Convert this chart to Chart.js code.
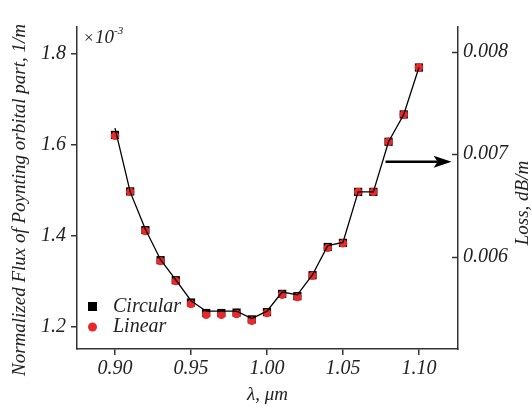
<!DOCTYPE html>
<html>
<head>
<meta charset="utf-8">
<script src="https://cdn.jsdelivr.net/npm/chart.js@4.4.1/dist/chart.umd.min.js"></script>
<style>
  html, body { margin: 0; padding: 0; background: #fff; }
  #wrap { width: 532px; height: 407px; }
</style>
</head>
<body>
<div id="wrap"><canvas id="fluxChart" width="532" height="407"></canvas></div>
<script>
// wavelength, um
const wavelengths = [0.90, 0.91, 0.92, 0.93, 0.94, 0.95, 0.96, 0.97, 0.98, 0.99, 1.00,
                     1.01, 1.02, 1.03, 1.04, 1.05, 1.06, 1.07, 1.08, 1.09, 1.10];
// normalized flux, x10^-3 1/m
const circularVals = [1.622, 1.498, 1.413, 1.347, 1.303, 1.254, 1.231, 1.231, 1.232, 1.217, 1.233,
                      1.273, 1.268, 1.314, 1.376, 1.385, 1.497, 1.497, 1.607, 1.667, 1.770];
const linearVals   = [1.620, 1.497, 1.411, 1.345, 1.301, 1.251, 1.227, 1.227, 1.229, 1.214, 1.231,
                      1.271, 1.266, 1.313, 1.374, 1.384, 1.497, 1.497, 1.607, 1.667, 1.770];
// connecting curve drawn over the markers
const curveVals    = [1.637, 1.497, 1.415, 1.348, 1.304, 1.258, 1.235, 1.235, 1.235, 1.219, 1.235,
                      1.277, 1.271, 1.315, 1.379, 1.386, 1.497, 1.497, 1.607, 1.667, 1.770];

const xTicks = [0.90, 0.95, 1.00, 1.05, 1.10];
const yTicks = [1.2, 1.4, 1.6, 1.8];
const lossTicks = [0.006, 0.007, 0.008];

const FONT = 'Liberation Serif';
const INK = '#222';
const AXIS = '#333';
const RED = '#e8282b';

function toPoints(xs, ys) {
    return xs.map((x, i) => ({x: x, y: ys[i]}));
}

function fixTicks(values) {
    return scale => { scale.ticks = values.map(v => ({value: v})); };
}

// arrow pointing at the loss axis
const arrow = {x1: 1.078, x2: 1.1215, y: 1.563};

const extras = {
    id: 'extras',
    afterDraw(chart) {
        const ctx = chart.ctx;
        const area = chart.chartArea;
        const sx = chart.scales.x, sy = chart.scales.y, s2 = chart.scales.y2;
        ctx.save();

        // inward ticks on the right axis
        ctx.strokeStyle = AXIS;
        ctx.lineWidth = 1.5;
        lossTicks.forEach(v => {
            const py = Math.round(s2.getPixelForValue(v)) + 0.5;
            ctx.beginPath();
            ctx.moveTo(s2.left - 6, py);
            ctx.lineTo(s2.left, py);
            ctx.stroke();
        });

        // arrow
        const ax1 = sx.getPixelForValue(arrow.x1);
        const ax2 = sx.getPixelForValue(arrow.x2);
        const ay = sy.getPixelForValue(arrow.y);
        ctx.strokeStyle = '#000';
        ctx.fillStyle = '#000';
        ctx.lineWidth = 2.5;
        ctx.beginPath();
        ctx.moveTo(ax1, ay);
        ctx.lineTo(ax2 - 14, ay);
        ctx.stroke();
        ctx.beginPath();
        ctx.moveTo(ax2, ay);
        ctx.lineTo(ax2 - 18, ay - 6);
        ctx.lineTo(ax2 - 14, ay);
        ctx.lineTo(ax2 - 18, ay + 6);
        ctx.closePath();
        ctx.fill();

        // x10^-3 multiplier
        ctx.fillStyle = INK;
        ctx.textBaseline = 'alphabetic';
        ctx.textAlign = 'left';
        ctx.font = '17px "' + FONT + '"';
        ctx.fillText('×', area.left + 7, area.top + 16);
        ctx.font = 'italic 19px "' + FONT + '"';
        ctx.fillText('10', area.left + 18, area.top + 16);
        ctx.font = 'italic 11px "' + FONT + '"';
        ctx.fillText('-3', area.left + 37, area.top + 7);

        // legend
        const c = chart.data.datasets[0], l = chart.data.datasets[1];
        ctx.font = 'italic 20px "' + FONT + '"';
        ctx.textBaseline = 'middle';
        ctx.fillStyle = c.pointBackgroundColor;
        ctx.fillRect(area.left + 11, area.bottom - 47, 9, 9);
        ctx.fillStyle = INK;
        ctx.fillText('Circular', area.left + 36, area.bottom - 42);
        ctx.fillStyle = l.pointBackgroundColor;
        ctx.beginPath();
        ctx.arc(area.left + 15.5, area.bottom - 22, 4.5, 0, Math.PI * 2);
        ctx.fill();
        ctx.fillStyle = INK;
        ctx.fillText('Linear', area.left + 36, area.bottom - 22);

        // axis titles
        ctx.textAlign = 'center';
        ctx.font = 'italic 19px "' + FONT + '"';
        ctx.fillText('λ, μm', (area.left + area.right) / 2, 395);

        ctx.translate(20, 200);
        ctx.rotate(-Math.PI / 2);
        ctx.fillText('Normalized Flux of Poynting orbital part, 1/m', 0, 0);
        ctx.setTransform(1, 0, 0, 1, 0, 0);

        ctx.translate(523, 203);
        ctx.rotate(-Math.PI / 2);
        ctx.fillText('Loss, dB/m', 0, 0);
        ctx.restore();
    }
};

const tickFont = {family: FONT, size: 20, style: 'italic'};

new Chart(document.getElementById('fluxChart'), {
    type: 'scatter',
    data: {
        datasets: [
            {
                label: 'Circular',
                data: toPoints(wavelengths, circularVals),
                pointStyle: 'rect',
                pointRadius: 5.8,
                pointBackgroundColor: '#000',
                pointBorderColor: '#000',
                pointBorderWidth: 0,
                showLine: false,
                order: 2
            },
            {
                label: 'Linear',
                data: toPoints(wavelengths, linearVals),
                pointStyle: 'circle',
                pointRadius: 4.2,
                pointBackgroundColor: RED,
                pointBorderColor: RED,
                pointBorderWidth: 0,
                showLine: false,
                order: 1
            },
            {
                label: 'curve',
                data: toPoints(wavelengths, curveVals),
                showLine: true,
                borderColor: '#000',
                borderWidth: 1.3,
                pointRadius: 0,
                tension: 0,
                order: 0
            }
        ]
    },
    options: {
        responsive: false,
        animation: false,
        layout: {padding: {top: 27, left: 0, right: 0, bottom: 0}},
        plugins: {legend: {display: false}, tooltip: {enabled: false}},
        scales: {
            x: {
                type: 'linear',
                position: 'bottom',
                min: 0.875,
                max: 1.1257,
                afterBuildTicks: fixTicks(xTicks),
                afterFit: scale => { scale.height = 58; },
                grid: {drawOnChartArea: false, drawTicks: true, tickLength: 6, color: AXIS, lineWidth: 1.5},
                border: {display: true, color: AXIS, width: 1.5},
                ticks: {font: tickFont, color: INK, padding: 2, callback: v => v.toFixed(2)}
            },
            y: {
                type: 'linear',
                position: 'left',
                min: 1.152,
                max: 1.859,
                afterBuildTicks: fixTicks(yTicks),
                afterFit: scale => { scale.width = 77; },
                grid: {drawOnChartArea: false, drawTicks: true, tickLength: 6, color: AXIS, lineWidth: 1.5},
                border: {display: true, color: AXIS, width: 1.5},
                ticks: {font: tickFont, color: INK, padding: 5, callback: v => v.toFixed(1)}
            },
            y2: {
                type: 'linear',
                position: 'right',
                min: 0.0051,
                max: 0.00824,
                afterBuildTicks: fixTicks(lossTicks),
                afterFit: scale => { scale.width = 74; },
                grid: {drawOnChartArea: false, drawTicks: false},
                border: {display: true, color: AXIS, width: 1.5},
                ticks: {font: tickFont, color: INK, padding: 5, callback: v => v.toFixed(3)}
            }
        }
    },
    plugins: [extras]
});
</script>
</body>
</html>
